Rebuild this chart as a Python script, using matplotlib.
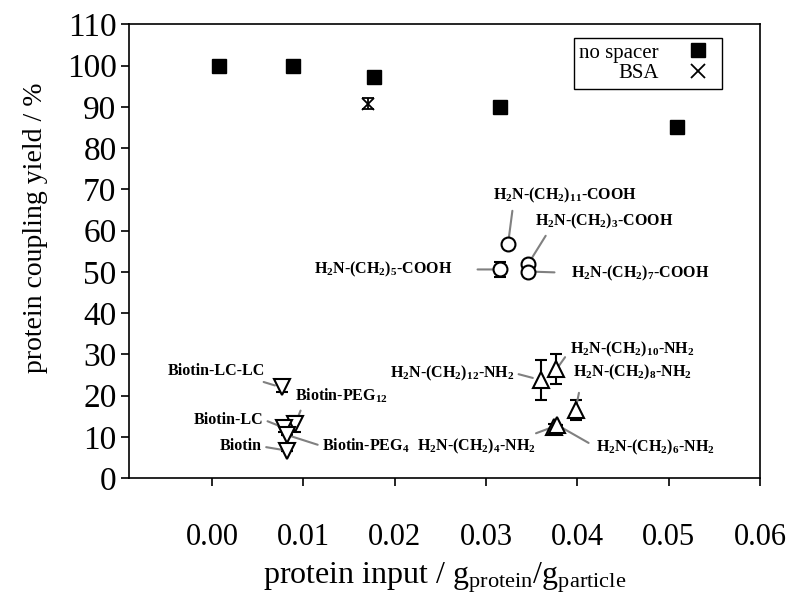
import numpy as np
import matplotlib
matplotlib.use('Agg')
import matplotlib.pyplot as plt
from matplotlib.lines import Line2D

plt.rcParams['font.family'] = ['Liberation Serif', 'DejaVu Serif']
plt.rcParams['mathtext.fontset'] = 'custom'
plt.rcParams['mathtext.rm'] = 'Liberation Serif'
plt.rcParams['mathtext.it'] = 'Liberation Serif:italic'
plt.rcParams['mathtext.bf'] = 'Liberation Serif:bold'

# no spacer / BSA
nospacer_x = [0.0008, 0.0088, 0.0177, 0.0315, 0.0509]
nospacer_y = [100.0, 100.0, 97.2, 89.9, 85.1]
bsa_x = [0.0171]
bsa_y = [90.8]
bsa_err = [1.3]

# amino acid spacers (circles)
cooh_names = ['11', '3', '5', '7']
cooh_x = [0.0324, 0.0346, 0.0315, 0.0346]
cooh_y = [56.7, 51.9, 50.6, 50.1]
cooh_err = [0.0, 0.0, 1.8, 0.0]

# diamine spacers (triangles up)
nh2_names = ['12', '10', '8', '4', '6']
nh2_x = [0.0360, 0.0377, 0.0398, 0.0374, 0.0378]
nh2_y = [23.8, 26.4, 16.6, 12.5, 12.9]
nh2_err = [4.8, 3.6, 2.4, 0.6, 0.0]

# biotin spacers (triangles down)
bio_names = ['Biotin-LC-LC', 'Biotin-PEG$_\\mathbf{12}$', 'Biotin-LC', 'Biotin-PEG$_\\mathbf{4}$', 'Biotin']
bio_x = [0.0076, 0.0091, 0.0079, 0.0082, 0.0082]
bio_y = [22.0, 13.2, 12.2, 10.5, 6.7]
bio_err = [1.0, 2.0, 1.0, 0.0, 0.0]

fig = plt.figure(figsize=(7.92, 5.94), dpi=100)
ax = fig.add_axes([0.163, 0.1948, 0.7966, 0.7643])

ax.plot(nospacer_x, nospacer_y, 's', color='black', ms=9.5, zorder=3)
ax.errorbar(bsa_x, bsa_y, yerr=bsa_err, fmt='x', color='black', ms=8, mew=1.3,
            capsize=4, elinewidth=1.3, capthick=1.3, zorder=3)

common = dict(mfc='white', mec='black', mew=1.5, color='black', ecolor='black',
              capsize=4.5, elinewidth=1.5, capthick=1.5, linestyle='none', zorder=3)
ax.errorbar(cooh_x, cooh_y, yerr=cooh_err, fmt='o', ms=10, **common)
ax.errorbar(nh2_x, nh2_y, yerr=nh2_err, fmt='^', ms=11, **common)
ax.errorbar(bio_x, bio_y, yerr=bio_err, fmt='v', ms=11, **common)

lbl = dict(fontsize=11.5, fontweight='bold', textcoords='offset points')


def note(text, xy, off, ha, va, relpos, sa=2, sb=5):
    ax.annotate(text, xy=xy, xytext=off, ha=ha, va=va, **lbl,
                arrowprops=dict(arrowstyle='-', color='#808080', lw=1.5,
                                relpos=relpos, shrinkA=sa, shrinkB=sb))


def cooh(n):
    return 'H$_\\mathbf{2}$N-(CH$_\\mathbf{2}$)$_\\mathbf{%s}$-COOH' % n


def nh2(n):
    return 'H$_\\mathbf{2}$N-(CH$_\\mathbf{2}$)$_\\mathbf{%s}$-NH$_\\mathbf{2}$' % n


# circle labels
note(cooh(cooh_names[0]), (cooh_x[0], cooh_y[0]), (41, 35), 'center', 'center', (0.14, 0.0), 2, 5)
note(cooh(cooh_names[1]), (cooh_x[1], cooh_y[1]), (5, 31), 'left', 'center', (0.1, 0.0), 2, 4)
note(cooh(cooh_names[2]), (cooh_x[2], cooh_y[2]), (-34, 0), 'right', 'center', (1.0, 0.5), 16, 4)
note(cooh(cooh_names[3]), (cooh_x[3], cooh_y[3]), (31, -1), 'left', 'center', (0.0, 0.5), 10, 4)

# triangle up labels
note(nh2(nh2_names[0]), (nh2_x[0], nh2_y[0]), (-19, 5), 'right', 'center', (1.0, 0.5), 1, 6)
note(nh2(nh2_names[1]), (nh2_x[1], nh2_y[1]), (10, 14), 'left', 'center', (0.0, 0.5), 3, 3)
note(nh2(nh2_names[2]), (nh2_x[2], nh2_y[2]), (-2, 27), 'left', 'center', (0.07, 0.0), 6, 1)
note(nh2(nh2_names[3]), (nh2_x[3], nh2_y[3]), (-13, -14), 'right', 'center', (0.93, 1.0), 1, 3)
note(nh2(nh2_names[4]), (nh2_x[4], nh2_y[4]), (28, -16), 'left', 'center', (0.0, 0.5), 4, 4)

# triangle down labels
note(bio_names[0], (bio_x[0], bio_y[0]), (-12, 12), 'right', 'center', (0.88, 0.0), 1, 5)
note(bio_names[1], (bio_x[1], bio_y[1]), (0, 20), 'left', 'center', (0.08, 0.0), 2, 4)
note(bio_names[2], (bio_x[2], bio_y[2]), (-15, 6), 'right', 'center', (1.0, 0.5), 1, 3)
note(bio_names[3], (bio_x[3], bio_y[3]), (25, -8), 'left', 'center', (0.0, 0.5), 1, 3)
note(bio_names[4], (bio_x[4], bio_y[4]), (-18, 3), 'right', 'center', (1.0, 0.5), 1, 3)

ax.set_xlim(-0.0091, 0.06)
ax.set_ylim(0, 110)
ax.set_xticks(np.arange(0, 0.061, 0.01))
ax.set_yticks(np.arange(0, 111, 10))
ax.xaxis.set_major_formatter(matplotlib.ticker.FormatStrFormatter('%.2f'))
ax.tick_params(axis='x', direction='out', length=6, width=1.2, labelsize=22, pad=26)
ax.tick_params(axis='y', direction='out', length=6, width=1.2, labelsize=24, pad=3)
for s in ax.spines.values():
    s.set_linewidth(1.2)

ax.set_xlabel('protein input / g$_{\\mathrm{protein}}$/g$_{\\mathrm{particle}}$', fontsize=23, labelpad=6)
ax.set_ylabel('protein coupling yield / %', fontsize=20)
ax.yaxis.set_label_coords(-0.128, 0.551)

handles = [Line2D([], [], marker='s', color='black', ls='none', ms=9.5),
           Line2D([], [], marker='x', color='black', ls='none', ms=10, mew=1.3)]
leg = ax.legend(handles, ['no spacer', 'BSA'], loc='upper right',
                bbox_to_anchor=(722 / 792, 1 - 38 / 594), bbox_transform=fig.transFigure,
                markerfirst=False, fontsize=15, fancybox=False, edgecolor='black',
                framealpha=1, borderpad=0.25, labelspacing=0.05, handletextpad=1.0,
                handlelength=1.8, borderaxespad=0)
leg.get_frame().set_linewidth(1.0)

fig.savefig('out.png', dpi=100)
